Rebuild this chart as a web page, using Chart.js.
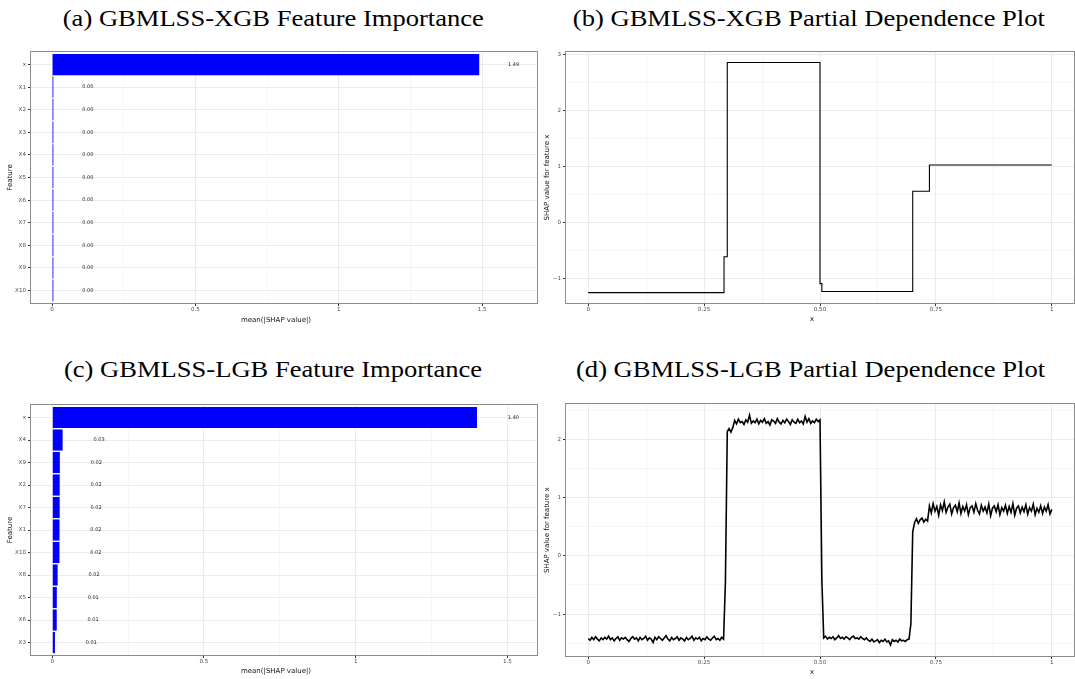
<!DOCTYPE html>
<html>
<head>
<meta charset="utf-8">
<script src="https://cdn.jsdelivr.net/npm/chart.js@4.4.1/dist/chart.umd.min.js"></script>
<style>
  html, body { margin: 0; padding: 0; background: #fff; }
  #wrap { position: relative; width: 1075px; height: 679px; overflow: hidden; background: #fff; }
  canvas { position: absolute; }
  .ttl { position: absolute; width: 540px; text-align: center; font-family: "Liberation Serif", serif;
         font-size: 23.5px; line-height: 24px; color: #000; white-space: nowrap; }
  .ttl span { display: inline-block; transform: scaleX(1.13); }
</style>
</head>
<body>
<div id="wrap">
  <div class="ttl" style="left:3px; top:6px"><span>(a) GBMLSS-XGB Feature Importance</span></div>
  <div class="ttl" style="left:539px; top:6px"><span>(b) GBMLSS-XGB Partial Dependence Plot</span></div>
  <div class="ttl" style="left:3px; top:357px"><span>(c) GBMLSS-LGB Feature Importance</span></div>
  <div class="ttl" style="left:541px; top:357px"><span>(d) GBMLSS-LGB Partial Dependence Plot</span></div>
  <canvas id="impXgb" width="540" height="285" style="left:0; top:45px"></canvas>
  <canvas id="pdpXgb" width="535" height="285" style="left:540px; top:45px"></canvas>
  <canvas id="impLgb" width="540" height="281" style="left:0; top:398px"></canvas>
  <canvas id="pdpLgb" width="535" height="281" style="left:540px; top:398px"></canvas>
</div>
<script>
// ---- mean(|SHAP value|) per feature ----
const xgbFeatures   = ['x', 'X1', 'X2', 'X3', 'X4', 'X5', 'X6', 'X7', 'X8', 'X9', 'X10'];
const xgbImportance = [1.49, 0.0045, 0.0045, 0.0045, 0.0045, 0.0045, 0.0045, 0.0045, 0.0045, 0.0045, 0.0045];

const lgbFeatures   = ['x', 'X4', 'X9', 'X2', 'X7', 'X1', 'X10', 'X8', 'X5', 'X6', 'X3'];
const lgbImportance = [1.40, 0.034, 0.0249, 0.0245, 0.0244, 0.0238, 0.0236, 0.0176, 0.0149, 0.0146, 0.0088];

// ---- tick values / labels ----
const impTicks       = [0, 0.5, 1, 1.5];
const impTickLabels  = ['0', '0.5', '1', '1.5'];
const impMinorTicks  = [0.25, 0.75, 1.25];

const pdpXTicks      = [0, 0.25, 0.5, 0.75, 1];
const pdpXTickLabels = ['0', '0.25', '0.50', '0.75', '1'];
const pdpXMinorTicks = [0.125, 0.375, 0.625, 0.875];

const xgbShapTicks      = [-1, 0, 1, 2, 3];
const xgbShapTickLabels = ['\u22121', '0', '1', '2', '3'];
const xgbShapMinorTicks = [-0.5, 0.5, 1.5, 2.5];

const lgbShapTicks      = [-1, 0, 1, 2];
const lgbShapTickLabels = ['\u22121', '0', '1', '2'];
const lgbShapMinorTicks = [-1.5, -0.5, 0.5, 1.5, 2.5];

// ---- XGBoost partial dependence (step function) ----
const xgbPdpX = [0, 0.293, 0.293, 0.300, 0.300, 0.500, 0.500, 0.504, 0.504, 0.700, 0.700, 0.736, 0.736, 1.0];
const xgbPdpY = [-1.26, -1.26, -0.62, -0.62, 2.85, 2.85, -1.10, -1.10, -1.24, -1.24, 0.55, 0.55, 1.02, 1.02];

// ---- LightGBM partial dependence, sampled every lgbPdpStep along x ----
const lgbPdpStep = 0.004;
const lgbPdpY = [
  -1.42,-1.45,-1.40,-1.44,-1.39,-1.43,-1.46,-1.41,-1.44,-1.40,
  -1.43,-1.38,-1.44,-1.41,-1.46,-1.42,-1.39,-1.45,-1.41,-1.43,
  -1.40,-1.44,-1.47,-1.42,-1.39,-1.43,-1.41,-1.46,-1.40,-1.44,
  -1.42,-1.38,-1.45,-1.41,-1.43,-1.49,-1.40,-1.44,-1.39,-1.42,
  -1.45,-1.41,-1.37,-1.43,-1.46,-1.40,-1.44,-1.42,-1.39,-1.45,
  -1.41,-1.43,-1.46,-1.40,-1.44,-1.42,-1.38,-1.45,-1.41,-1.43,
  -1.40,-1.46,-1.42,-1.44,-1.39,-1.43,-1.45,-1.41,-1.38,-1.44,
  -1.42,-1.45,-1.40,-1.43,
  -0.45,
  2.14,
  2.19, 2.13, 2.21,
  2.33, 2.27, 2.35, 2.29, 2.31, 2.26, 2.34, 2.30, 2.42, 2.28, 2.32,
  2.29, 2.35, 2.27, 2.33, 2.30, 2.36, 2.28, 2.31, 2.25, 2.34,
  2.32, 2.28, 2.36, 2.30, 2.27, 2.33, 2.29, 2.35, 2.31, 2.26,
  2.34, 2.30, 2.28, 2.35, 2.29, 2.32, 2.27, 2.40, 2.30, 2.36,
  2.28, 2.32, 2.29, 2.35, 2.31, 2.34,
  -0.40,
  -1.41,-1.38,-1.43,-1.40,-1.42,-1.39,-1.44,-1.41,-1.37,-1.42,
  -1.40,-1.43,-1.39,-1.41,-1.44,-1.40,-1.38,-1.42,-1.41,-1.43,
  -1.39,-1.42,-1.44,-1.41,
  -1.45,-1.47,-1.43,-1.48,-1.46,-1.44,-1.49,-1.45,-1.47,-1.43,
  -1.48,-1.46,-1.53,-1.44,-1.47,-1.45,-1.48,-1.43,-1.46,-1.45,
  -1.47,-1.44,-1.43,
  -1.17,
  0.42,
  0.57, 0.64, 0.56, 0.62, 0.65, 0.58, 0.63, 0.60,
  0.86, 0.74, 0.90, 0.77, 0.85, 0.70, 0.88, 0.78, 0.93, 0.75,
  0.84, 0.89, 0.72, 0.83, 0.87, 0.76, 0.91, 0.73, 0.85, 0.77,
  0.88, 0.71, 0.83, 0.86, 0.75, 0.90, 0.78, 0.72, 0.87, 0.77,
  0.84, 0.74, 0.89, 0.69, 0.82, 0.86, 0.76, 0.88, 0.71, 0.83,
  0.77, 0.87, 0.73, 0.85, 0.75, 0.90, 0.70, 0.82, 0.86, 0.74,
  0.84, 0.76, 0.88, 0.72, 0.83, 0.77, 0.89, 0.71, 0.82, 0.75,
  0.86, 0.73, 0.84, 0.77, 0.88, 0.72, 0.80
];

// ---------------------------------------------------------------
Chart.defaults.font.family = 'DejaVu Sans';
const GRID = '#ebebeb';
const TICK_TEXT = '#4d4d4d';

function tickList(major, labels, minor) {
  const list = major.map((v, i) => ({ value: v, label: labels[i], minor: false }))
    .concat((minor || []).map(v => ({ value: v, label: '', minor: true })));
  list.sort((a, b) => a.value - b.value);
  return list;
}

function numAxis(o) {
  const list = o.ticks;
  return {
    type: 'linear',
    min: o.min, max: o.max, reverse: !!o.reverse, offset: false,
    afterBuildTicks: s => { s.ticks = list.map(t => ({ value: t.value })); },
    afterFit: s => { if (o.horizontal) s.height = o.size; else s.width = o.size; },
    ticks: {
      autoSkip: false, maxRotation: 0, minRotation: 0, padding: o.pad,
      color: TICK_TEXT, font: { size: 5.6 },
      callback: (v, i) => (list[i] ? list[i].label : '')
    },
    grid: {
      offset: false, drawTicks: true, tickLength: 2, tickWidth: 1,
      color: GRID,
      lineWidth: c => (list[c.index] && list[c.index].minor) ? 0.5 : 1,
      tickColor: c => (list[c.index] && list[c.index].minor) ? 'rgba(0,0,0,0)' : '#333'
    },
    border: { display: false },
    title: { display: false }
  };
}

// frame around the panel plus the axis titles
const panelFrame = {
  id: 'panelFrame',
  afterDraw(chart, args, o) {
    const { ctx, chartArea: a } = chart;
    ctx.save();
    ctx.strokeStyle = '#8c8c8c';
    ctx.lineWidth = 1;
    ctx.strokeRect(Math.round(a.left) + 0.5, Math.round(a.top) + 0.5,
                   Math.round(a.right) - Math.round(a.left) - 1, Math.round(a.bottom) - Math.round(a.top) - 1);
    ctx.fillStyle = '#111';
    ctx.font = '7px "DejaVu Sans"';
    ctx.textAlign = 'center';
    ctx.textBaseline = 'middle';
    ctx.fillText(o.xTitle, (a.left + a.right) / 2 + o.xShift, a.bottom + o.xGap);
    ctx.translate(a.left - o.yGap, (a.top + a.bottom) / 2);
    ctx.rotate(-Math.PI / 2);
    ctx.fillText(o.yTitle, 0, 0);
    ctx.restore();
  }
};

// value printed to the right of each bar
const barValueLabels = {
  id: 'barValueLabels',
  afterDatasetsDraw(chart, args, o) {
    const { ctx } = chart;
    const xs = chart.scales.x, ys = chart.scales.y;
    ctx.save();
    ctx.font = '5px "DejaVu Sans"';
    ctx.fillStyle = '#222';
    ctx.textAlign = 'center';
    ctx.textBaseline = 'middle';
    chart.data.datasets[0].data.forEach(d => {
      ctx.fillText(d.x.toFixed(2), xs.getPixelForValue(d.x + o.offset), ys.getPixelForValue(d.y));
    });
    ctx.restore();
  }
};

function importanceChart(id, features, values, xMin, xMax, layout) {
  const featTicks = tickList(features.map((f, i) => i), features, []);
  return new Chart(document.getElementById(id), {
    type: 'bar',
    data: {
      datasets: [{
        data: features.map((f, i) => ({ x: values[i], y: i })),
        backgroundColor: '#0000ff',
        borderWidth: 0,
        barPercentage: 0.94,
        categoryPercentage: 1
      }]
    },
    options: {
      indexAxis: 'y',
      responsive: false, animation: false, devicePixelRatio: 1,
      layout: { padding: { top: layout.top, right: 2, left: 0, bottom: 0 } },
      scales: {
        x: numAxis({ min: xMin, max: xMax, ticks: tickList(impTicks, impTickLabels, impMinorTicks),
                     horizontal: true, size: layout.xSize, pad: 0 }),
        y: numAxis({ min: -0.6, max: features.length - 0.4, reverse: true, ticks: featTicks,
                     size: 30, pad: 2 })
      },
      plugins: {
        legend: { display: false }, tooltip: { enabled: false }, title: { display: false },
        panelFrame: { xTitle: 'mean(|SHAP value|)', yTitle: 'Feature',
                      xGap: layout.xGap, yGap: 20, xShift: -8 },
        barValueLabels: { offset: 0.12 }
      }
    },
    plugins: [panelFrame, barValueLabels]
  });
}

function pdpChart(id, points, yMin, yMax, yTicks, layout) {
  return new Chart(document.getElementById(id), {
    type: 'line',
    data: {
      datasets: [{
        data: points,
        borderColor: '#000',
        borderWidth: layout.lineWidth,
        pointRadius: 0,
        tension: 0,
        fill: false
      }]
    },
    options: {
      responsive: false, animation: false, devicePixelRatio: 1,
      layout: { padding: { top: layout.top, right: 0, left: 0, bottom: 0 } },
      scales: {
        x: numAxis({ min: -0.05, max: 1.05, ticks: tickList(pdpXTicks, pdpXTickLabels, pdpXMinorTicks),
                     horizontal: true, size: layout.xSize, pad: 0 }),
        y: numAxis({ min: yMin, max: yMax, ticks: yTicks, size: 25, pad: 2 })
      },
      plugins: {
        legend: { display: false }, tooltip: { enabled: false }, title: { display: false },
        panelFrame: { xTitle: 'x', yTitle: 'SHAP value for feature x',
                      xGap: layout.xGap, yGap: 17.7, xShift: -8 }
      }
    },
    plugins: [panelFrame]
  });
}

importanceChart('impXgb', xgbFeatures, xgbImportance, -0.077, 1.695, { top: 6, xSize: 26, xGap: 16.5 });
importanceChart('impLgb', lgbFeatures, lgbImportance, -0.0735, 1.601, { top: 6, xSize: 23, xGap: 15 });

pdpChart('pdpXgb', xgbPdpX.map((x, i) => ({ x: x, y: xgbPdpY[i] })), -1.463, 3.055,
         tickList(xgbShapTicks, xgbShapTickLabels, xgbShapMinorTicks),
         { top: 6, xSize: 26, xGap: 15.5, lineWidth: 1.1 });
pdpChart('pdpLgb', lgbPdpY.map((y, i) => ({ x: +(i * lgbPdpStep).toFixed(3), y: y })), -1.738, 2.623,
         tickList(lgbShapTicks, lgbShapTickLabels, lgbShapMinorTicks),
         { top: 5, xSize: 22, xGap: 14.7, lineWidth: 1.6 });
</script>
</body>
</html>
